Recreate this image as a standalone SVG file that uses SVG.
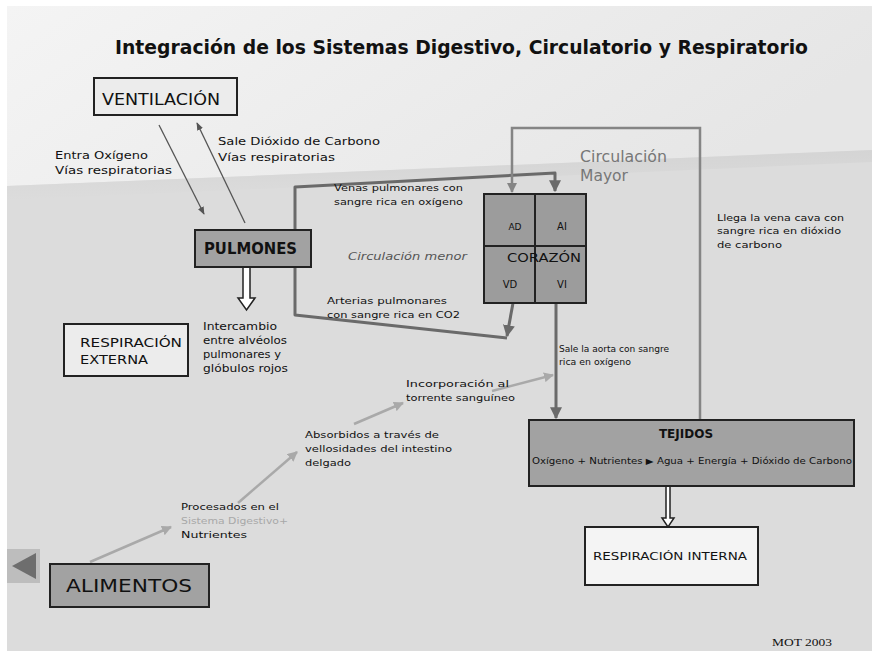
<svg xmlns="http://www.w3.org/2000/svg" width="872" height="651" viewBox="0 0 872 651">
<defs>
<style>
text{font-family:"DejaVu Sans","Liberation Sans",sans-serif;fill:#111}
.box{stroke:#222;stroke-width:2}
.gray{fill:#a2a2a2}
.light{fill:#ececec}
.circ{fill:none;stroke:#6a6a6a;stroke-width:3;stroke-linejoin:round}
.may{fill:none;stroke:#858585;stroke-width:2.5}
.dig{fill:none;stroke:#a9a9a9;stroke-width:2.5}
.ven{fill:none;stroke:#555;stroke-width:1.3}
.hol{fill:#fff;stroke:#222;stroke-width:1.5}
</style>
<linearGradient id="top" x1="0" y1="0" x2="1" y2="0.3">
<stop offset="0" stop-color="#f4f4f4"/><stop offset="1" stop-color="#e6e6e6"/>
</linearGradient>
<linearGradient id="shade" x1="0" y1="0" x2="0" y2="1">
<stop offset="0" stop-color="#cfcfcf"/><stop offset="1" stop-color="#dcdcdc"/>
</linearGradient>
<marker id="ac" viewBox="0 0 10 10" refX="9" refY="5" markerWidth="4" markerHeight="4" orient="auto"><path d="M0,0L10,5L0,10z" fill="#6a6a6a"/></marker>
<marker id="am" viewBox="0 0 10 10" refX="9" refY="5" markerWidth="4" markerHeight="4" orient="auto"><path d="M0,0L10,5L0,10z" fill="#858585"/></marker>
<marker id="ad" viewBox="0 0 10 10" refX="9" refY="5" markerWidth="4" markerHeight="4" orient="auto"><path d="M0,0L10,5L0,10z" fill="#a9a9a9"/></marker>
<marker id="av" viewBox="0 0 10 10" refX="9" refY="5" markerWidth="6" markerHeight="6" orient="auto"><path d="M0,1L10,5L0,9z" fill="#555"/></marker>
</defs>
<rect width="872" height="651" fill="#fff"/>
<rect x="7" y="6" width="865" height="645" fill="#dcdcdc"/>
<polygon points="7,6 872,6 872,150 7,186" fill="url(#top)"/>
<polygon points="7,186 872,150 872,162 7,200" fill="url(#shade)" opacity="0.6"/>

<text x="115" y="54" font-size="19" font-weight="bold" textLength="693" lengthAdjust="spacingAndGlyphs">Integración de los Sistemas Digestivo, Circulatorio y Respiratorio</text>

<g id="connectors">
<line class="ven" x1="159" y1="125" x2="204" y2="214" marker-end="url(#av)"/>
<line class="ven" x1="245" y1="223" x2="197" y2="123" marker-end="url(#av)"/>
<polyline class="circ" points="295,230 295,187 555,173 555,191" marker-end="url(#ac)"/>
<polyline class="circ" points="295,267 295,315 507,338"/>
<line class="circ" x1="513" y1="303" x2="507" y2="336" marker-end="url(#ac)"/>
<polyline class="may" points="700,420 700,128 512,128 512,192" marker-end="url(#am)"/>
<line class="circ" x1="556" y1="303" x2="556" y2="418" marker-end="url(#ac)"/>
<line class="dig" x1="90" y1="562" x2="171" y2="527" marker-end="url(#ad)"/>
<line class="dig" x1="238" y1="503" x2="297" y2="452" marker-end="url(#ad)"/>
<line class="dig" x1="354" y1="424" x2="403" y2="403" marker-end="url(#ad)"/>
<line class="dig" x1="492" y1="391" x2="553" y2="375" marker-end="url(#ad)"/>
<polygon class="hol" points="243,267 250,267 250,298 255,298 246.5,310 238,298 243,298"/>
<polygon class="hol" points="666,486 670,486 670,518 674,518 668,527 662,518 666,518"/>
</g>

<g id="ventilacion">
<rect class="box light" x="94" y="78" width="143" height="37"/>
<text x="102" y="105" font-size="16" textLength="118" lengthAdjust="spacingAndGlyphs">VENTILACIÓN</text>
</g>
<g id="labels-vent">
<text x="55" y="159" font-size="11" textLength="93" lengthAdjust="spacingAndGlyphs">Entra Oxígeno</text>
<text x="55" y="174" font-size="11" textLength="117" lengthAdjust="spacingAndGlyphs">Vías respiratorias</text>
<text x="218" y="145" font-size="11" textLength="162" lengthAdjust="spacingAndGlyphs">Sale Dióxido de Carbono</text>
<text x="218" y="161" font-size="11" textLength="117" lengthAdjust="spacingAndGlyphs">Vías respiratorias</text>
</g>

<g id="pulmones">
<rect class="box gray" x="195" y="230" width="116" height="37"/>
<text x="204" y="254" font-size="15" font-weight="bold" textLength="93" lengthAdjust="spacingAndGlyphs">PULMONES</text>
</g>

<g id="corazon">
<rect class="box" x="484" y="194" width="102" height="109" fill="#9c9c9c"/>
<line x1="535" y1="194" x2="535" y2="303" stroke="#222" stroke-width="2"/>
<line x1="484" y1="246" x2="586" y2="246" stroke="#222" stroke-width="2"/>
<text x="515" y="230" font-size="9" text-anchor="middle">AD</text>
<text x="562" y="230" font-size="10" text-anchor="middle">AI</text>
<text x="507" y="262" font-size="13" textLength="74" lengthAdjust="spacingAndGlyphs">CORAZÓN</text>
<text x="510" y="288" font-size="10" text-anchor="middle">VD</text>
<text x="562" y="288" font-size="10" text-anchor="middle">VI</text>
</g>

<g id="labels-circ">
<text x="334" y="191" font-size="9" textLength="129" lengthAdjust="spacingAndGlyphs">Venas pulmonares con</text>
<text x="334" y="205" font-size="9" textLength="129" lengthAdjust="spacingAndGlyphs">sangre rica en oxígeno</text>
<text x="348" y="260" font-size="11" font-style="italic" fill="#555" style="fill:#555" textLength="119" lengthAdjust="spacingAndGlyphs">Circulación  menor</text>
<text x="327" y="304" font-size="9.5" textLength="120" lengthAdjust="spacingAndGlyphs">Arterias pulmonares</text>
<text x="327" y="318" font-size="9.5" textLength="133" lengthAdjust="spacingAndGlyphs">con sangre rica en CO2</text>
<text x="580" y="162" font-size="15" style="fill:#777" textLength="87" lengthAdjust="spacingAndGlyphs">Circulación</text>
<text x="580" y="181" font-size="15" style="fill:#777" textLength="48" lengthAdjust="spacingAndGlyphs">Mayor</text>
<text x="717" y="221" font-size="9" textLength="127" lengthAdjust="spacingAndGlyphs">Llega la vena cava con</text>
<text x="717" y="234" font-size="9" textLength="124" lengthAdjust="spacingAndGlyphs">sangre rica en dióxido</text>
<text x="717" y="248" font-size="9" textLength="65" lengthAdjust="spacingAndGlyphs">de carbono</text>
<text x="559" y="352" font-size="8" textLength="110" lengthAdjust="spacingAndGlyphs">Sale la aorta con sangre</text>
<text x="559" y="365" font-size="8" textLength="72" lengthAdjust="spacingAndGlyphs">rica en oxígeno</text>
</g>

<g id="respiracion-externa">
<rect class="box light" x="64" y="324" width="124" height="52"/>
<text x="80" y="347" font-size="13" textLength="102" lengthAdjust="spacingAndGlyphs">RESPIRACIÓN</text>
<text x="80" y="364" font-size="13" textLength="68" lengthAdjust="spacingAndGlyphs">EXTERNA</text>
</g>
<g id="labels-intercambio">
<text x="203" y="330" font-size="10" textLength="74" lengthAdjust="spacingAndGlyphs">Intercambio</text>
<text x="203" y="344" font-size="10" textLength="84" lengthAdjust="spacingAndGlyphs">entre alvéolos</text>
<text x="203" y="358" font-size="10" textLength="78" lengthAdjust="spacingAndGlyphs">pulmonares y</text>
<text x="203" y="372" font-size="10" textLength="85" lengthAdjust="spacingAndGlyphs">glóbulos rojos</text>
</g>

<g id="labels-digestivo">
<text x="181" y="510" font-size="9.5" textLength="98" lengthAdjust="spacingAndGlyphs">Procesados en el</text>
<text x="181" y="524" font-size="9.5" style="fill:#a8a8a8" textLength="107" lengthAdjust="spacingAndGlyphs">Sistema Digestivo+</text>
<text x="181" y="538" font-size="9.5" textLength="66" lengthAdjust="spacingAndGlyphs">Nutrientes</text>
<text x="305" y="438" font-size="9.5" textLength="134" lengthAdjust="spacingAndGlyphs">Absorbidos a través de</text>
<text x="305" y="452" font-size="9.5" textLength="147" lengthAdjust="spacingAndGlyphs">vellosidades del intestino</text>
<text x="305" y="466" font-size="9.5" textLength="46" lengthAdjust="spacingAndGlyphs">delgado</text>
<text x="406" y="387" font-size="9.5" textLength="103" lengthAdjust="spacingAndGlyphs">Incorporación al</text>
<text x="406" y="401" font-size="9.5" textLength="109" lengthAdjust="spacingAndGlyphs">torrente sanguíneo</text>
</g>

<g id="tejidos">
<rect class="box gray" x="529" y="420" width="325" height="66"/>
<text x="686" y="438" font-size="12" font-weight="bold" text-anchor="middle">TEJIDOS</text>
<text x="532" y="464" font-size="8" textLength="320" lengthAdjust="spacingAndGlyphs">Oxígeno + Nutrientes  ▶  Agua + Energía + Dióxido de Carbono</text>
</g>

<g id="respiracion-interna">
<rect class="box" x="585" y="527" width="173" height="58" fill="#f4f4f4"/>
<text x="593" y="560" font-size="11" textLength="154" lengthAdjust="spacingAndGlyphs">RESPIRACIÓN INTERNA</text>
</g>

<g id="alimentos">
<rect class="box gray" x="50" y="564" width="159" height="43"/>
<text x="66" y="592" font-size="18" textLength="126" lengthAdjust="spacingAndGlyphs">ALIMENTOS</text>
</g>

<g id="nav">
<rect x="7" y="549" width="33" height="34" fill="#bdbdbd"/>
<polygon points="12,566 36,553 36,579" fill="#6e6e6e"/>
</g>

<text x="772" y="646" font-size="10" style="font-family:'Liberation Serif',serif" textLength="60" lengthAdjust="spacingAndGlyphs">MOT 2003</text>
</svg>
